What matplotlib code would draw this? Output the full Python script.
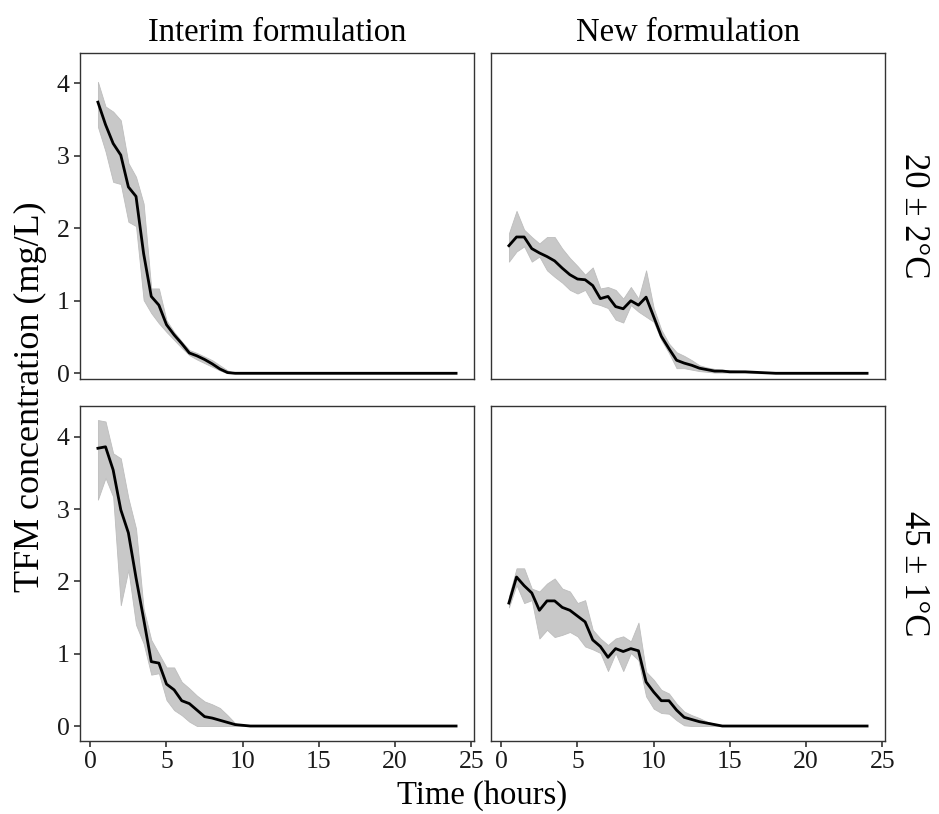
import numpy as np
import matplotlib
matplotlib.use("Agg")
import matplotlib.pyplot as plt

plt.rcParams['font.family'] = ['Liberation Serif', 'DejaVu Serif']

# sampling times (hours)
time_h = [0.5, 1.0, 1.5, 2.0, 2.5, 3.0, 3.5, 4.0, 4.5, 5.0,
          5.5, 6.0, 6.5, 7.0, 7.5, 8.0, 8.5, 9.0, 9.5, 10.0,
          10.5, 11.0, 11.5, 12.0, 12.5, 13.0, 13.5, 14.0, 14.5, 15.0,
          16, 17, 18, 19, 20, 21, 22, 23, 24]

formulations = ["Interim formulation", "New formulation"]
temperatures = ["20 \u00b1 2\u00b0C", "45 \u00b1 1\u00b0C"]

# Interim formulation, 20 C
interim_20_mean = [3.74, 3.43, 3.17, 3.01, 2.57, 2.44, 1.65, 1.06, 0.94, 0.67,
                   0.53, 0.41, 0.28, 0.24, 0.19, 0.13, 0.06, 0.01, 0.00, 0.00,
                   0.00, 0.00, 0.00, 0.00, 0.00, 0.00, 0.00, 0.00, 0.00, 0.00,
                   0, 0, 0, 0, 0, 0, 0, 0, 0]
interim_20_hi = [4.02, 3.68, 3.61, 3.49, 2.90, 2.71, 2.34, 1.17, 1.17, 0.73,
                 0.57, 0.44, 0.32, 0.28, 0.23, 0.18, 0.11, 0.04, 0.00, 0.00,
                 0.00, 0.00, 0.00, 0.00, 0.00, 0.00, 0.00, 0.00, 0.00, 0.00,
                 0, 0, 0, 0, 0, 0, 0, 0, 0]
interim_20_lo = [3.40, 3.06, 2.64, 2.61, 2.09, 2.03, 1.01, 0.83, 0.69, 0.57,
                 0.46, 0.35, 0.25, 0.19, 0.14, 0.09, 0.04, 0.00, 0.00, 0.00,
                 0.00, 0.00, 0.00, 0.00, 0.00, 0.00, 0.00, 0.00, 0.00, 0.00,
                 0, 0, 0, 0, 0, 0, 0, 0, 0]

# New formulation, 20 C
new_20_mean = [1.76, 1.88, 1.88, 1.72, 1.66, 1.61, 1.55, 1.45, 1.36, 1.30,
               1.29, 1.21, 1.03, 1.06, 0.92, 0.89, 1.00, 0.94, 1.05, 0.78,
               0.51, 0.34, 0.18, 0.14, 0.11, 0.07, 0.05, 0.03, 0.03, 0.02,
               0.02, 0.01, 0, 0, 0, 0, 0, 0, 0]
new_20_hi = [1.93, 2.24, 1.98, 1.88, 1.79, 1.88, 1.88, 1.72, 1.59, 1.48,
             1.36, 1.46, 1.17, 1.19, 1.15, 1.03, 1.19, 1.03, 1.42, 0.90,
             0.60, 0.41, 0.29, 0.24, 0.18, 0.11, 0.08, 0.06, 0.05, 0.04,
             0.03, 0.01, 0, 0, 0, 0, 0, 0, 0]
new_20_lo = [1.54, 1.68, 1.75, 1.54, 1.61, 1.42, 1.33, 1.25, 1.15, 1.10,
             1.15, 0.97, 0.94, 0.90, 0.74, 0.70, 0.94, 0.85, 0.78, 0.71,
             0.46, 0.28, 0.07, 0.07, 0.05, 0.03, 0.02, 0.01, 0.01, 0.01,
             0.01, 0.00, 0, 0, 0, 0, 0, 0, 0]

# Interim formulation, 45 C
interim_45_mean = [3.84, 3.86, 3.54, 2.99, 2.67, 2.05, 1.48, 0.89, 0.87, 0.58,
                   0.50, 0.35, 0.31, 0.22, 0.13, 0.11, 0.08, 0.05, 0.02, 0.01,
                   0.00, 0.00, 0.00, 0.00, 0.00, 0.00, 0.00, 0.00, 0.00, 0.00,
                   0, 0, 0, 0, 0, 0, 0, 0, 0]
interim_45_hi = [4.23, 4.21, 3.77, 3.70, 3.15, 2.73, 1.62, 1.19, 1.00, 0.81,
                 0.81, 0.61, 0.52, 0.42, 0.34, 0.30, 0.25, 0.15, 0.04, 0.00,
                 0.00, 0.00, 0.00, 0.00, 0.00, 0.00, 0.00, 0.00, 0.00, 0.00,
                 0, 0, 0, 0, 0, 0, 0, 0, 0]
interim_45_lo = [3.13, 3.43, 3.17, 1.67, 2.16, 1.40, 1.14, 0.71, 0.73, 0.36,
                 0.22, 0.15, 0.06, 0.00, 0.00, 0.00, 0.00, 0.00, 0.00, 0.00,
                 0.00, 0.00, 0.00, 0.00, 0.00, 0.00, 0.00, 0.00, 0.00, 0.00,
                 0, 0, 0, 0, 0, 0, 0, 0, 0]

# New formulation, 45 C
new_45_mean = [1.70, 2.06, 1.94, 1.84, 1.60, 1.73, 1.73, 1.64, 1.60, 1.52,
               1.44, 1.19, 1.10, 0.95, 1.07, 1.03, 1.07, 1.04, 0.61, 0.47,
               0.35, 0.35, 0.22, 0.12, 0.09, 0.06, 0.04, 0.02, 0.00, 0.00,
               0, 0, 0, 0, 0, 0, 0, 0, 0]
new_45_hi = [1.79, 2.18, 2.18, 1.90, 1.86, 1.97, 2.04, 1.90, 1.86, 1.70,
             1.74, 1.33, 1.21, 1.12, 1.21, 1.24, 1.17, 1.43, 0.75, 0.64,
             0.50, 0.45, 0.31, 0.20, 0.15, 0.11, 0.06, 0.03, 0.01, 0.00,
             0, 0, 0, 0, 0, 0, 0, 0, 0]
new_45_lo = [1.64, 1.95, 1.70, 1.74, 1.21, 1.33, 1.23, 1.26, 1.30, 1.24,
             1.10, 1.06, 1.01, 0.76, 1.01, 0.76, 1.01, 0.91, 0.41, 0.24,
             0.18, 0.17, 0.08, 0.01, 0.00, 0.00, 0.00, 0.00, 0.00, 0.00,
             0, 0, 0, 0, 0, 0, 0, 0, 0]

panels = [
    [(interim_20_mean, interim_20_lo, interim_20_hi), (new_20_mean, new_20_lo, new_20_hi)],
    [(interim_45_mean, interim_45_lo, interim_45_hi), (new_45_mean, new_45_lo, new_45_hi)],
]

W, H = 939, 814
fig = plt.figure(figsize=(W / 100, H / 100), dpi=100)

# panel boxes in pixels
col_x = [(80, 474), (491, 885)]
row_y = [(53, 379), (406, 741)]
row_ylim = [(-0.079, 4.418), (-0.207, 4.424)]

edge = "#333333"
for r in range(2):
    for c in range(2):
        x0, x1 = col_x[c]
        y0, y1 = row_y[r]
        ax = fig.add_axes([x0 / W, 1 - y1 / H, (x1 - x0) / W, (y1 - y0) / H])
        mean, lo, hi = panels[r][c]
        ax.fill_between(time_h, lo, hi, color="#c8c8c8", linewidth=0.6,
                        edgecolor="#bdbdbd")
        ax.plot(time_h, mean, color="black", linewidth=2.0)
        ax.set_xlim(-0.675, 25.175)
        ax.set_ylim(*row_ylim[r])
        ax.set_xticks([0, 5, 10, 15, 20, 25])
        ax.set_yticks([0, 1, 2, 3, 4])
        for s in ax.spines.values():
            s.set_color(edge)
            s.set_linewidth(1.0)
        ax.tick_params(length=4.5, width=1.2, color=edge, labelsize=18.5,
                       labelcolor="#1a1a1a")
        ax.tick_params(axis="x", pad=3)
        ax.tick_params(axis="y", pad=3)
        if c == 1:
            ax.tick_params(axis="y", left=False, labelleft=False)
        if r == 0:
            ax.tick_params(axis="x", bottom=False, labelbottom=False)
            ax.set_title(formulations[c], fontsize=23.5, pad=9)
        if c == 1:
            ax.text(1.03, 0.5, temperatures[r], transform=ax.transAxes,
                    rotation=-90, ha="left", va="center", fontsize=25)

fig.text(30 / W, 1 - 397 / H, "TFM concentration (mg/L)", rotation=90,
         ha="center", va="center", fontsize=26)
fig.text(482 / W, 1 - 796 / H, "Time (hours)", ha="center", va="center",
         fontsize=23.5)

fig.savefig("out.png", dpi=100, facecolor="white")
